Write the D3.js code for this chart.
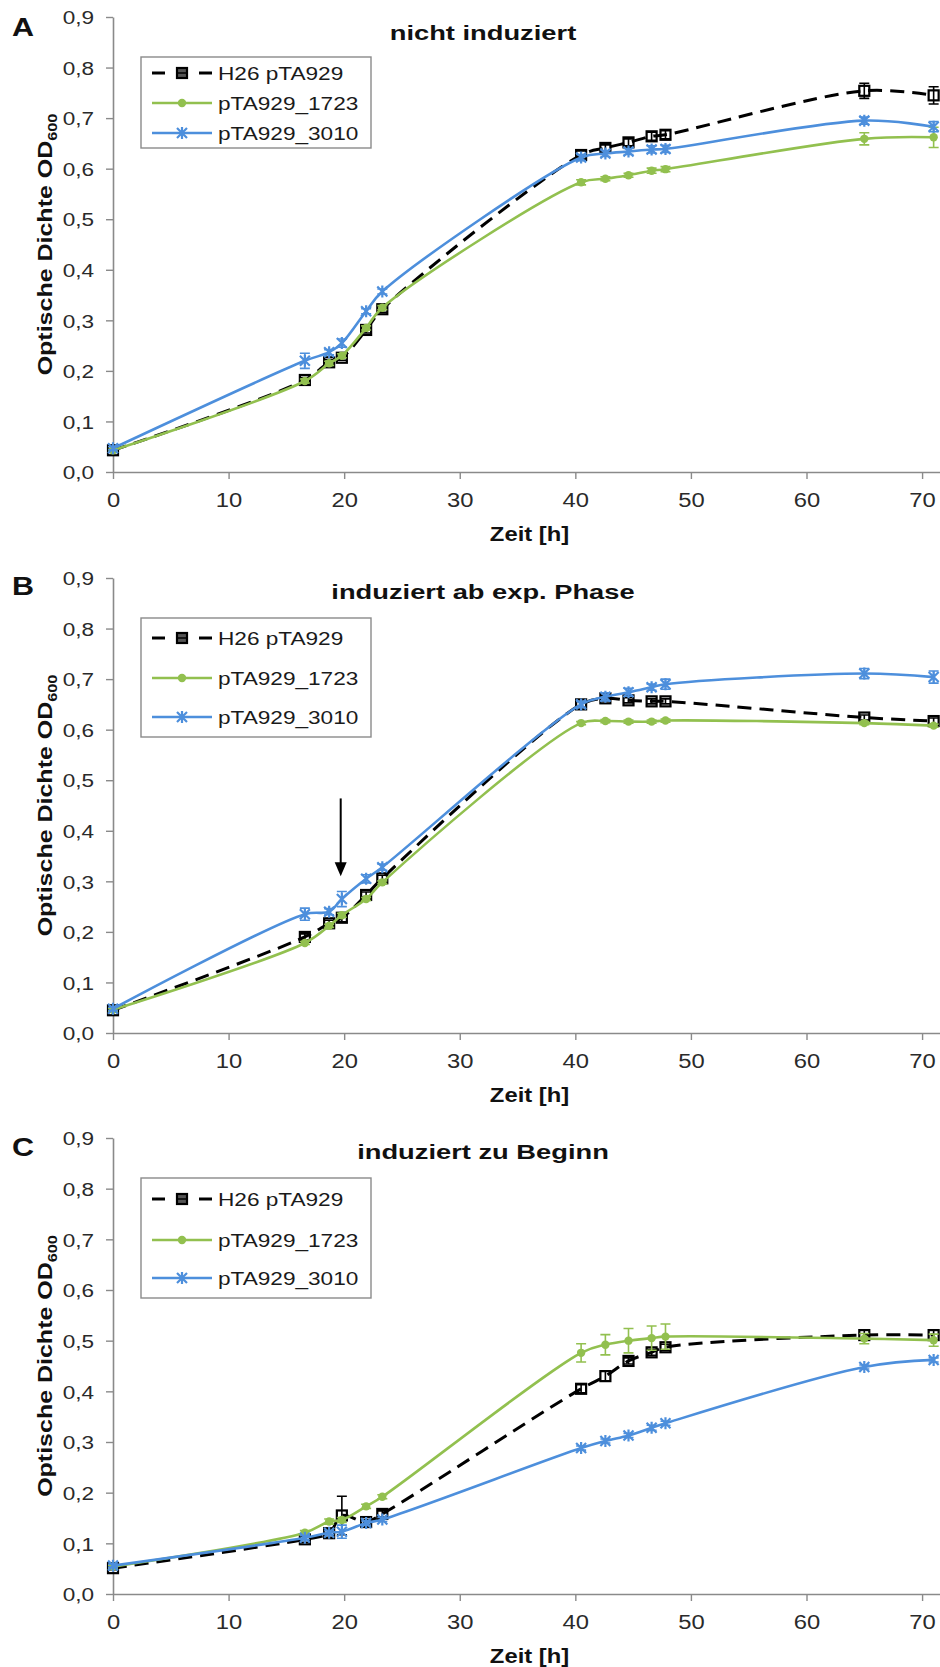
<!DOCTYPE html>
<html><head><meta charset="utf-8">
<script src="https://cdn.jsdelivr.net/npm/d3@7"></script>
<style>html,body{margin:0;padding:0;background:#fff}svg{display:block}</style>
</head><body>
<svg id="chart" width="940" height="1667"></svg>
<script>
// ---------------- DATA ----------------
const times = [0, 16.6, 18.7, 19.8, 21.9, 23.3, 40.5, 42.6, 44.6, 46.6, 47.8, 65.0, 71.0];
const seriesNames = ["H26 pTA929", "pTA929_1723", "pTA929_3010"];
const panelLetters = ["A", "B", "C"];
const panelTitles = ["nicht induziert", "induziert ab exp. Phase", "induziert zu Beginn"];
const yTicks = [0, 0.1, 0.2, 0.3, 0.4, 0.5, 0.6, 0.7, 0.8, 0.9];
const xTicks = [0, 10, 20, 30, 40, 50, 60, 70];
const xLabel = "Zeit [h]";
const yLabelMain = "Optische Dichte OD";
const yLabelSub = "600";

// Panel A
const A_h26      = [0.043, 0.182, 0.217, 0.226, 0.281, 0.322, 0.627, 0.641, 0.652, 0.664, 0.667, 0.754, 0.745];
const A_h26_err  = [0.003, 0.005, 0.005, 0.005, 0.006, 0.006, 0.008, 0.006, 0.007, 0.008, 0.008, 0.015, 0.017];
const A_1723     = [0.043, 0.180, 0.215, 0.230, 0.285, 0.325, 0.573, 0.580, 0.587, 0.596, 0.599, 0.659, 0.662];
const A_1723_err = [0.002, 0.004, 0.004, 0.004, 0.004, 0.004, 0.005, 0.004, 0.004, 0.005, 0.005, 0.012, 0.020];
const A_3010     = [0.047, 0.220, 0.237, 0.255, 0.318, 0.357, 0.622, 0.630, 0.634, 0.638, 0.639, 0.695, 0.683];
const A_3010_err = [0.003, 0.015, 0.005, 0.008, 0.005, 0.005, 0.006, 0.006, 0.006, 0.007, 0.007, 0.007, 0.010];

// Panel B
const B_h26      = [0.045, 0.190, 0.217, 0.228, 0.273, 0.306, 0.650, 0.662, 0.658, 0.656, 0.656, 0.624, 0.617];
const B_h26_err  = [0.003, 0.006, 0.006, 0.008, 0.006, 0.006, 0.006, 0.005, 0.005, 0.005, 0.005, 0.005, 0.006];
const B_1723     = [0.046, 0.178, 0.212, 0.233, 0.265, 0.298, 0.613, 0.617, 0.616, 0.616, 0.618, 0.613, 0.608];
const B_1723_err = [0.003, 0.003, 0.003, 0.004, 0.003, 0.003, 0.003, 0.003, 0.003, 0.003, 0.003, 0.003, 0.003];
const B_3010     = [0.048, 0.235, 0.240, 0.265, 0.305, 0.328, 0.650, 0.665, 0.674, 0.684, 0.690, 0.711, 0.704];
const B_3010_err = [0.003, 0.012, 0.006, 0.015, 0.008, 0.006, 0.006, 0.008, 0.008, 0.006, 0.010, 0.010, 0.012];
const arrowB = {x: 19.7, yFrom: 0.464, yTo: 0.31};

// Panel C
const C_h26      = [0.051, 0.108, 0.120, 0.155, 0.142, 0.158, 0.405, 0.430, 0.460, 0.477, 0.487, 0.511, 0.511];
const C_h26_err  = [0.003, 0.006, 0.008, 0.038, 0.005, 0.006, 0.008, 0.010, 0.006, 0.006, 0.006, 0.010, 0.010];
const C_1723     = [0.054, 0.121, 0.143, 0.146, 0.173, 0.192, 0.476, 0.492, 0.500, 0.505, 0.508, 0.504, 0.501];
const C_1723_err = [0.003, 0.004, 0.005, 0.005, 0.004, 0.004, 0.018, 0.020, 0.024, 0.024, 0.025, 0.010, 0.012];
const C_3010     = [0.056, 0.111, 0.121, 0.123, 0.140, 0.147, 0.288, 0.302, 0.313, 0.328, 0.337, 0.448, 0.462];
const C_3010_err = [0.003, 0.004, 0.004, 0.013, 0.004, 0.004, 0.004, 0.004, 0.004, 0.005, 0.004, 0.004, 0.004];

// ---------------- LAYOUT / STYLE ----------------
const panels = [
  {top: 17,   bottom: 472,  legTop: 57,   legBot: 148,  rows: [73, 103, 133],   letterY: 36,   titleY: 40,
   data: [[A_h26, A_h26_err], [A_1723, A_1723_err], [A_3010, A_3010_err]]},
  {top: 578,  bottom: 1033, legTop: 618,  legBot: 737,  rows: [638, 678, 717],  letterY: 595,  titleY: 599,
   data: [[B_h26, B_h26_err], [B_1723, B_1723_err], [B_3010, B_3010_err]], arrow: arrowB},
  {top: 1138, bottom: 1594, legTop: 1178, legBot: 1298, rows: [1199, 1240, 1278], letterY: 1156, titleY: 1159,
   data: [[C_h26, C_h26_err], [C_1723, C_1723_err], [C_3010, C_3010_err]]}
];
const left = 113, right = 940;
const colors = ["#000000", "#92c04f", "#4d8fdc"];
const FONT = "'Liberation Sans', Arial, Helvetica, sans-serif";
const SX = 1.22;       // horizontal stretch of lettering
const axisColor = "#8a8a8a";

const svg = d3.select("#chart");

function stext(parent, x, y, str, o = {}) {
  const g = parent.append("g").attr("transform", `translate(${x},${y})` + (o.rotate ? ` rotate(${o.rotate})` : ""));
  const t = g.append("text")
    .attr("transform", `scale(${o.sx || SX},1)`)
    .attr("text-anchor", o.anchor || "start")
    .attr("font-family", FONT)
    .attr("font-size", o.size || 19)
    .attr("font-weight", o.weight || "normal")
    .attr("fill", o.fill || "#1a1a1a")
    .text(str);
  return t;
}

function drawMarker(g, kind, cx, cy, color) {
  if (kind === 0) {
    g.append("rect").attr("x", cx - 5).attr("y", cy - 5).attr("width", 10).attr("height", 10)
      .attr("fill", "none").attr("stroke", color).attr("stroke-width", 2.2);
  } else if (kind === 1) {
    g.append("circle").attr("cx", cx).attr("cy", cy).attr("r", 4.2).attr("fill", color);
  } else {
    const s = 5;
    g.append("path")
      .attr("d", `M${cx - s},${cy - s}L${cx + s},${cy + s}M${cx - s},${cy + s}L${cx + s},${cy - s}M${cx},${cy - s - 1}L${cx},${cy + s + 1}`)
      .attr("stroke", color).attr("stroke-width", 2.2).attr("fill", "none");
  }
}

panels.forEach((p, pi) => {
  const x = d3.scaleLinear().domain([0, 71.55]).range([left, right]);
  const y = d3.scaleLinear().domain([0, 0.9]).range([p.bottom, p.top]);
  const g = svg.append("g");

  // axes
  const yAxis = d3.axisLeft(y).tickValues(yTicks).tickSize(7).tickSizeOuter(0)
    .tickFormat(d => d3.format(".1f")(d).replace(".", ","));
  const ya = g.append("g").attr("transform", `translate(${left},0)`).call(yAxis);
  ya.select(".domain").attr("stroke", axisColor).attr("stroke-width", 1.6);
  ya.selectAll(".tick line").attr("stroke", axisColor).attr("stroke-width", 1.4);
  ya.selectAll(".tick text")
    .attr("font-family", FONT).attr("font-size", 18.5).attr("fill", "#2a2a2a")
    .attr("x", -19 / SX).attr("dy", "0.36em").attr("transform", `scale(${SX},1)`);

  const xAxis = d3.axisBottom(x).tickValues(xTicks).tickSize(7).tickSizeOuter(0);
  const xa = g.append("g").attr("transform", `translate(0,${p.bottom})`).call(xAxis);
  xa.select(".domain").attr("stroke", axisColor).attr("stroke-width", 1.6);
  xa.selectAll(".tick line").attr("stroke", axisColor).attr("stroke-width", 1.4);
  xa.selectAll(".tick text")
    .attr("font-family", FONT).attr("font-size", 19.5).attr("fill", "#2a2a2a")
    .attr("y", 35).attr("dy", 0).attr("transform", `scale(${SX},1)`)
    .attr("x", 0);
  // keep tick text centred after scaling: translate each tick's text by scaling compensation
  xa.selectAll(".tick").each(function () {
    d3.select(this).select("text").attr("transform", `scale(${SX},1)`);
  });

  // axis titles
  stext(g, (left + right) / 2 + 3, p.bottom + 69, xLabel, {anchor: "middle", size: 19.5, weight: "bold", fill: "#111"});
  const yt = stext(g, 52, (p.top + p.bottom) / 2, "", {anchor: "middle", size: 20, weight: "bold", rotate: -90, sx: 1.25, fill: "#111"});
  yt.append("tspan").text(yLabelMain);
  yt.append("tspan").attr("font-size", 13).attr("dy", 5).text(yLabelSub);

  // panel letter and title
  stext(g, 12, p.letterY, panelLetters[pi], {size: 25, weight: "bold", sx: 1.22, fill: "#111"});
  stext(g, 483, p.titleY, panelTitles[pi], {anchor: "middle", size: 21, weight: "bold", sx: 1.3, fill: "#111"});

  // series
  const line = d3.line().x((d, i) => x(times[i])).y(d => y(d)).curve(d3.curveCatmullRom.alpha(0.5));
  p.data.forEach(([vals, errs], si) => {
    const sg = g.append("g");
    sg.append("path").datum(vals).attr("d", line).attr("fill", "none")
      .attr("stroke", colors[si]).attr("stroke-width", si === 0 ? 3 : 2.6)
      .attr("stroke-dasharray", si === 0 ? "14,8" : null);
    vals.forEach((v, i) => {
      const cx = x(times[i]);
      const y1 = y(v + errs[i]), y2 = y(v - errs[i]);
      sg.append("path")
        .attr("d", `M${cx},${y1}L${cx},${y2}M${cx - 5},${y1}L${cx + 5},${y1}M${cx - 5},${y2}L${cx + 5},${y2}`)
        .attr("stroke", colors[si]).attr("stroke-width", 1.6).attr("fill", "none");
      drawMarker(sg, si, cx, y(v), colors[si]);
    });
  });

  // arrow (panel B)
  if (p.arrow) {
    const ax = x(p.arrow.x), ay1 = y(p.arrow.yFrom), ay2 = y(p.arrow.yTo);
    g.append("line").attr("x1", ax).attr("x2", ax).attr("y1", ay1).attr("y2", ay2 - 12)
      .attr("stroke", "#000").attr("stroke-width", 2);
    g.append("path").attr("d", `M${ax - 6},${ay2 - 14}L${ax + 6},${ay2 - 14}L${ax},${ay2}Z`).attr("fill", "#000");
  }

  // legend
  const lg = g.append("g");
  lg.append("rect").attr("x", 141).attr("y", p.legTop).attr("width", 230).attr("height", p.legBot - p.legTop)
    .attr("fill", "#fff").attr("stroke", axisColor).attr("stroke-width", 1.4);
  seriesNames.forEach((name, si) => {
    const ry = p.rows[si];
    if (si === 0) {
      lg.append("line").attr("x1", 152).attr("x2", 165).attr("y1", ry).attr("y2", ry).attr("stroke", "#000").attr("stroke-width", 3);
      lg.append("line").attr("x1", 199).attr("x2", 212).attr("y1", ry).attr("y2", ry).attr("stroke", "#000").attr("stroke-width", 3);
      lg.append("rect").attr("x", 177).attr("y", ry - 5).attr("width", 10).attr("height", 10)
        .attr("fill", "#555").attr("stroke", "#000").attr("stroke-width", 2.2);
      lg.append("line").attr("x1", 178).attr("x2", 186).attr("y1", ry).attr("y2", ry).attr("stroke", "#000").attr("stroke-width", 1.5);
    } else {
      lg.append("line").attr("x1", 152).attr("x2", 212).attr("y1", ry).attr("y2", ry).attr("stroke", colors[si]).attr("stroke-width", 2.6);
      drawMarker(lg, si, 182, ry, colors[si]);
    }
    stext(lg, 218, ry + 7, name, {size: 19, sx: 1.19, fill: "#1a1a1a"});
  });
});
</script>
</body></html>
